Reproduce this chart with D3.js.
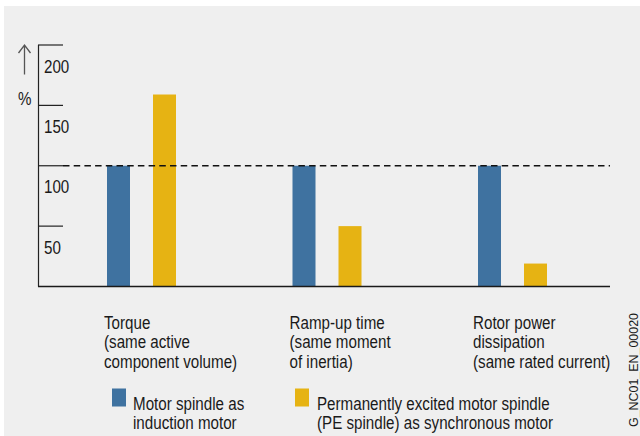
<!DOCTYPE html>
<html>
<head>
<meta charset="utf-8">
<script src="https://cdn.jsdelivr.net/npm/d3@7"></script>
<style>
  html, body { margin: 0; padding: 0; background: #ffffff; }
  svg { display: block; }
  text { font-family: "Liberation Sans", Arial, Helvetica, sans-serif; fill: #1a1a1a; }
</style>
</head>
<body>
<svg id="chart" width="640" height="436"></svg>
<script>
// Relative comparison of motor spindle types (induction motor = 100 %)
const categories = ["Torque", "Ramp-up time", "Rotor power dissipation"];
const categoryLabels = [
  ["Torque", "(same active", "component volume)"],
  ["Ramp-up time", "(same moment", "of inertia)"],
  ["Rotor power", "dissipation", "(same rated current)"]
];
const seriesNames = ["induction", "pe"];
const inductionValues = [100, 100, 100];
const peValues = [159, 50, 19];
const yTicks = [50, 100, 150, 200];
const yTickLabels = ["50", "100", "150", "200"];
const referenceValue = 100;
const legendLabels = [
  ["Motor spindle as", "induction motor"],
  ["Permanently excited motor spindle", "(PE spindle) as synchronous motor"]
];
const colors = { induction: "#3f72a0", pe: "#e6b313" };
const docCode = "G_NC01_EN_00020";

// condensed sans text: regular face squeezed horizontally
const FS = 18.5, SQUEEZE = 0.82;
function narrowText(parent, x, y, lines, lineHeight) {
  const t = parent.append("text")
    .attr("transform", `translate(${x},${y}) scale(${SQUEEZE},1)`)
    .attr("font-size", FS);
  t.selectAll("tspan").data(lines).join("tspan")
    .attr("x", 0)
    .attr("dy", (d, i) => i === 0 ? 0 : lineHeight)
    .text(d => d);
  return t;
}

const svg = d3.select("#chart");

// panel background
svg.append("rect").attr("x", 4).attr("y", 6).attr("width", 636).attr("height", 430).attr("fill", "#efefef");

const axisX = 38, axisRight = 610;
const y = d3.scaleLinear().domain([0, 200]).range([286.5, 45]);
const x0 = d3.scaleBand().domain(categories).range([107, 107 + 3 * 185.5]).paddingInner(0).paddingOuter(0);
const x1 = d3.scaleBand().domain(seriesNames).range([0, 69]).paddingInner(0.5).paddingOuter(0);

// bars
const rows = categories.map((c, i) => ({ cat: c, induction: inductionValues[i], pe: peValues[i] }));
const groups = svg.append("g").selectAll("g").data(rows).join("g")
  .attr("transform", d => `translate(${x0(d.cat)},0)`);
groups.selectAll("rect").data(d => seriesNames.map(s => ({ s, v: d[s] }))).join("rect")
  .attr("x", d => x1(d.s))
  .attr("y", d => y(d.v))
  .attr("width", x1.bandwidth())
  .attr("height", d => y(0) - y(d.v))
  .attr("fill", d => colors[d.s]);

// dashed 100 % reference line
svg.append("line")
  .attr("x1", 63).attr("x2", axisRight)
  .attr("y1", y(referenceValue)).attr("y2", y(referenceValue))
  .attr("stroke", "#111").attr("stroke-width", 1.3)
  .attr("stroke-dasharray", "6.5,4.2");

// y axis: vertical line, short tick lines, labels below each tick
const axis = svg.append("g");
axis.append("line").attr("x1", axisX + 0.5).attr("x2", axisX + 0.5).attr("y1", y(200)).attr("y2", y(0))
  .attr("stroke", "#222").attr("stroke-width", 1.2);
axis.selectAll("line.tick").data(yTicks).join("line").attr("class", "tick")
  .attr("x1", axisX).attr("x2", 63)
  .attr("y1", d => y(d)).attr("y2", d => y(d))
  .attr("stroke", "#222").attr("stroke-width", 1.2);
yTicks.forEach((v, i) => narrowText(axis, 44, y(v) + 27.5, [yTickLabels[i]], 0));

// baseline
svg.append("line").attr("x1", axisX).attr("x2", axisRight).attr("y1", y(0)).attr("y2", y(0))
  .attr("stroke", "#1a1a1a").attr("stroke-width", 1.5);

// unit marker: arrow and percent sign
svg.append("path").attr("d", "M24.5,74.5 V45 M18.5,53 L24.5,45 L30.5,53")
  .attr("fill", "none").attr("stroke", "#555").attr("stroke-width", 1.3);
narrowText(svg, 18, 105, ["%"], 0);

// category labels
const labelLayer = svg.append("g");
categories.forEach((c, i) => {
  narrowText(labelLayer, x0(c) - (i === 2 ? 5 : 3), 328.5, categoryLabels[i], 20);
});

// legend
const legendPos = [{ rx: 112, tx: 133 }, { rx: 295, tx: 317 }];
const legend = svg.append("g");
seriesNames.forEach((s, i) => {
  legend.append("rect")
    .attr("x", legendPos[i].rx).attr("y", 388.5)
    .attr("width", 14).attr("height", 18)
    .attr("fill", colors[s]);
  narrowText(legend, legendPos[i].tx, 409.5, legendLabels[i], 19.5);
});

// document code, rotated
svg.append("text")
  .attr("transform", "translate(638,427) rotate(-90)")
  .attr("font-size", 12.4)
  .attr("fill", "#333")
  .attr("textLength", 114)
  .attr("lengthAdjust", "spacingAndGlyphs")
  .text(docCode);
</script>
</body>
</html>
